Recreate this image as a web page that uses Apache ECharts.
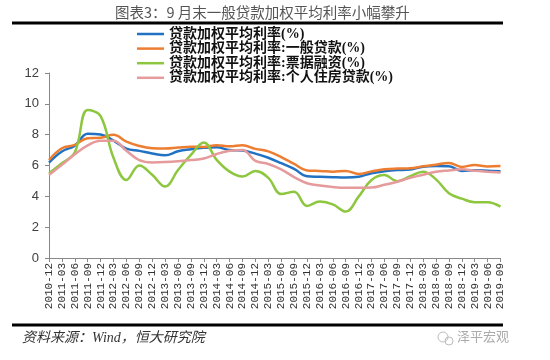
<!DOCTYPE html>
<html><head><meta charset="utf-8">
<script src="https://cdn.jsdelivr.net/npm/echarts@6/dist/echarts.min.js"></script>
<style>html,body{margin:0;padding:0;background:#fff}#c{width:550px;height:360px}</style>
</head><body><div id="c"></div>
<script>
var categories = ['2010-12','2011-03','2011-06','2011-09','2011-12','2012-03','2012-06','2012-09','2012-12','2013-03','2013-06','2013-09','2013-12','2014-03','2014-06','2014-09','2014-12','2015-03','2015-06','2015-09','2015-12','2016-03','2016-06','2016-09','2016-12','2017-03','2017-06','2017-09','2017-12','2018-03','2018-06','2018-09','2018-12','2019-03','2019-06','2019-09'];
var seriesNames = ['贷款加权平均利率(%)','贷款加权平均利率:一般贷款(%)','贷款加权平均利率:票据融资(%)','贷款加权平均利率:个人住房贷款(%)'];
var totalRate = [6.19,6.91,7.29,8.06,8.01,7.61,7.10,6.95,6.78,6.66,6.92,7.06,7.15,7.18,7.00,6.97,6.77,6.50,6.15,5.78,5.30,5.27,5.24,5.22,5.27,5.50,5.62,5.70,5.74,5.92,5.96,5.95,5.65,5.69,5.66,5.62];
var generalRate = [6.36,7.12,7.34,7.77,7.80,7.99,7.55,7.27,7.12,7.10,7.16,7.22,7.20,7.32,7.25,7.32,7.08,6.92,6.55,6.10,5.68,5.65,5.60,5.65,5.45,5.62,5.75,5.80,5.82,5.95,6.05,6.17,5.91,6.04,5.94,5.96];
var billRate = [5.50,6.15,6.85,9.60,9.20,6.50,5.06,6.00,5.40,4.63,5.71,6.69,7.50,6.36,5.60,5.28,5.65,5.20,4.15,4.30,3.38,3.66,3.48,3.01,3.98,5.06,5.38,4.98,5.30,5.60,5.10,4.20,3.85,3.62,3.62,3.33];
var mortgageRate = [5.39,6.04,6.73,7.30,7.60,7.60,6.95,6.35,6.20,6.22,6.27,6.35,6.45,6.75,6.95,7.00,6.30,6.10,5.75,5.25,4.85,4.70,4.60,4.55,4.55,4.57,4.75,4.95,5.20,5.40,5.60,5.68,5.75,5.66,5.60,5.55];
var yTicks = {min:0, max:12, interval:2};
var colors = ['#2272C3','#ED7D31','#8DC63F','#E59A9B'];
var values = [totalRate, generalRate, billRate, mortgageRate];

var chart = echarts.init(document.getElementById('c'));
chart.setOption({
  animation:false,
  color: colors,
  title:{text:'图表3：9 月末一般贷款加权平均利率小幅攀升', left:110, top:0,
    textStyle:{fontSize:14.5, fontWeight:'normal', color:'#555', fontFamily:'Noto Sans CJK SC'}},
  legend:{orient:'vertical', left:132, top:22, icon:'rect', itemWidth:27, itemHeight:2.5, itemGap:0.6,
    textStyle:{fontSize:14, fontWeight:'bold', color:'#111', fontFamily:'Liberation Serif, Noto Sans CJK SC', lineHeight:14},
    data: seriesNames},
  grid:{left:49, right:49.5, top:73, bottom:102, containLabel:false},
  xAxis:{type:'category', data:categories, boundaryGap:false,
    axisLine:{lineStyle:{color:'#888', width:1}},
    axisTick:{show:true, length:4, alignWithLabel:true, lineStyle:{color:'#888'}},
    axisLabel:{rotate:90, interval:0, fontSize:11, margin:5, color:'#333', fontFamily:'Liberation Mono'}},
  yAxis:{type:'value', min:yTicks.min, max:yTicks.max, interval:yTicks.interval,
    splitLine:{show:false},
    axisLine:{show:true, lineStyle:{color:'#888', width:1}},
    axisTick:{show:true, length:4, lineStyle:{color:'#888'}},
    axisLabel:{fontSize:13, color:'#404040', margin:10, fontFamily:'Liberation Sans'}},
  series: seriesNames.map(function(n,i){
    return {name:n, type:'line', data:values[i], smooth:0.4, symbol:'none',
      lineStyle:{width:2.5, color:colors[i]}};
  }),
  graphic:[
    {type:'rect', shape:{x:12, y:21.5, width:491, height:3}, style:{fill:'#000'}},
    {type:'rect', shape:{x:12, y:323.5, width:491, height:3}, style:{fill:'#000'}},
    {type:'text', left:22, top:331, style:{text:'资料来源：Wind，恒大研究院', fontSize:14, fontStyle:'italic', fill:'#333', fontFamily:'Liberation Serif, Noto Sans CJK SC'}},
    {type:'circle', shape:{cx:443, cy:337, r:5}, style:{fill:'none', stroke:'#bbb', lineWidth:1}},
    {type:'circle', shape:{cx:449, cy:341, r:4}, style:{fill:'none', stroke:'#bbb', lineWidth:1}},
    {type:'text', left:457, top:330, style:{text:'泽平宏观', fontSize:13, fill:'#aaa', fontFamily:'Noto Sans CJK SC'}}
  ]
});
</script></body></html>
